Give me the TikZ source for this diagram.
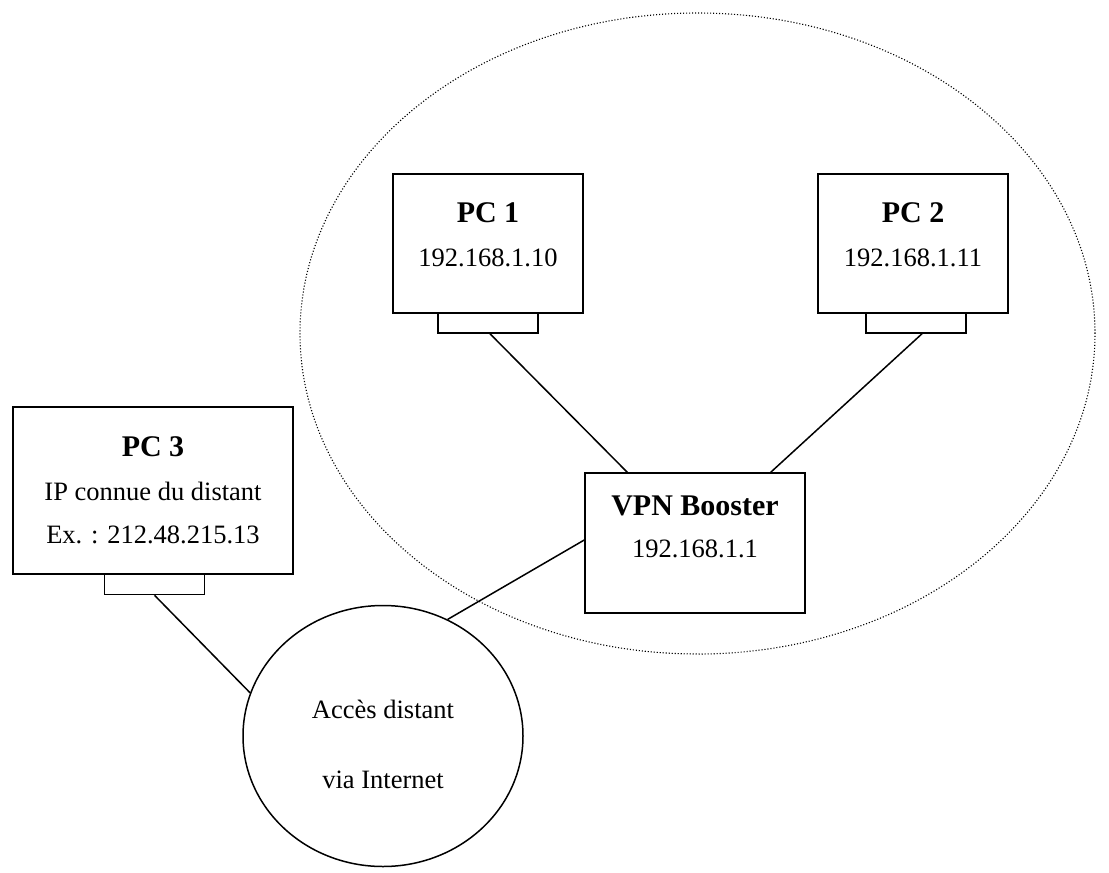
\documentclass[tikz,border=0pt]{standalone}
\usepackage{fontspec}
\setmainfont{Liberation Serif}
\usetikzlibrary{calc,shapes.geometric}
\begin{document}
\begin{tikzpicture}[x=1pt,y=-1pt,
  box/.style={draw, line width=1.5pt, rectangle, inner sep=0pt},
  port/.style={draw, line width=1.5pt, rectangle, inner sep=0pt, minimum width=100pt, minimum height=20pt},
  ttl/.style={anchor=base, inner sep=0pt, font=\fontsize{30}{36}\selectfont\bfseries},
  txt/.style={anchor=base, inner sep=0pt, font=\fontsize{26.5}{32}\selectfont},
  link/.style={line width=1.5pt},
  zone/.style={draw, line width=1.1pt, dash pattern=on 1.1pt off 1.9pt, ellipse, inner sep=0pt}
]
\useasboundingbox (0,0) rectangle (1109,873);
% LAN zone
\node[zone, minimum width=795pt, minimum height=641pt] (lan) at (697.5,333.5) {};
% boxes
\node[box, minimum width=190pt, minimum height=139pt] (pc1) at (488,243.5) {};
\node[port] (port1) at (488,323) {};
\node[box, minimum width=190pt, minimum height=139pt] (pc2) at (913,243.5) {};
\node[port] (port2) at (916,323) {};
\node[box, minimum width=280pt, minimum height=167pt] (pc3) at (153,490.5) {};
\node[port] (port3) at (154.5,584.5) {};
\node[box, minimum width=220pt, minimum height=140pt] (vpn) at (695,543) {};
\node[draw, line width=1.5pt, ellipse, inner sep=0pt, minimum width=280pt, minimum height=261pt] (net) at (383,736) {};
% texts
\node[ttl] (pc1a) at (488,222) {PC 1};
\node[txt] (pc1b) at (488,266) {192.168.1.10};
\node[ttl] (pc2a) at (913,222) {PC 2};
\node[txt] (pc2b) at (913,266) {192.168.1.11};
\node[ttl] (pc3a) at (153,456) {PC 3};
\node[txt] (pc3b) at (153,500) {IP connue du distant};
\node[txt] (pc3c) at (153,543) {Ex. : 212.48.215.13};
\node[ttl] (vpna) at (695,515) {VPN Booster};
\node[txt] (vpnb) at (695,557) {192.168.1.1};
\node[txt] (neta) at (383,718) {Accès distant};
\node[txt] (netb) at (383,788) {via Internet};
% links
\draw[link] ($(port1.south)+(2,0)$) -- ($(vpn.north west)+(43,0)$);
\draw[link] ($(port2.south)+(6,0)$) -- ($(vpn.north east)+(-35,0)$);
\draw[link] ($(vpn.west)+(0,-3)$) -- (net.61);
\draw[link] (port3.south) -- (net.162);
\end{tikzpicture}
\end{document}
